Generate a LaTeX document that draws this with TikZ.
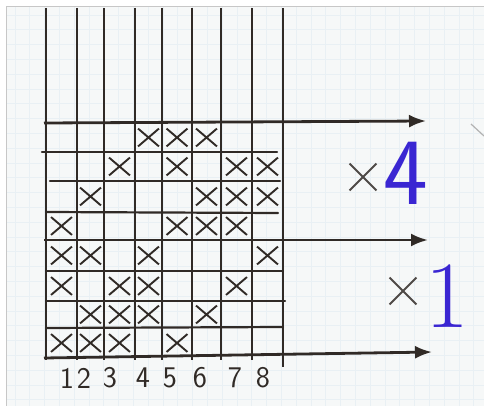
\documentclass[tikz,border=0pt]{standalone}
\usetikzlibrary{arrows.meta,shapes.misc}
\definecolor{ink}{RGB}{48,42,38}
\definecolor{paper}{RGB}{246,248,248}
\definecolor{gridc}{RGB}{233,240,244}
\definecolor{bluepen}{RGB}{58,38,210}
\tikzset{
  vline/.style={ink,line width=2.1pt},
  hline/.style={ink,line width=2.2pt,line cap=round},
  arrowline/.style={ink,line width=2.8pt,-{Latex[length=17pt,width=13pt]}},
  xmark/.style={cross out,draw=ink,line width=1.9pt,minimum width=19pt,minimum height=16pt,inner sep=0pt},
  bigx/.style={cross out,draw=ink!85,line width=1.9pt,minimum size=25pt,inner sep=0pt},
  digit/.style={ink,font=\fontsize{30}{30}\selectfont\sffamily,inner sep=0pt},
  bluedigit/.style={bluepen,font=\fontsize{95}{95}\selectfont\sffamily,inner sep=0pt},
  bluedigitr/.style={bluepen,font=\fontsize{95}{95}\selectfont\rmfamily,inner sep=0pt}
}
\begin{document}
\begin{tikzpicture}[x=1pt,y=-1pt]
\useasboundingbox (0,0) rectangle (484,406);
\fill[white] (0,0) rectangle (484,406);
\fill[paper] (6,7) rectangle (484,406);
\draw[gridc,line width=0.5pt] (6,7) grid[step=14.8pt] (484,406);
\draw[black!22,line width=1pt] (6,406) -- (6,7) -- (484,7);
% vertical lines
\foreach \x [count=\i] in {46,77,104,135,162,192,221,252,283}{
  \coordinate (vT\i) at (\x,8);
  \coordinate (vB\i) at (\x,360);
  \draw[vline] (vT\i) -- (vB\i);
}
\coordinate (tick) at (283,367);
\draw[vline] (vB9) -- (tick);
% horizontal lines
\coordinate (h1L) at (44,123); \coordinate (h1R) at (426,121);
\coordinate (h2L) at (42,152); \coordinate (h2R) at (277,152);
\coordinate (h3L) at (50,181); \coordinate (h3R) at (280,181);
\coordinate (h4L) at (46,212); \coordinate (h4R) at (278,213);
\coordinate (h5L) at (44,240); \coordinate (h5R) at (428,240);
\coordinate (h6L) at (46,271); \coordinate (h6R) at (283,271);
\coordinate (h7L) at (46,301); \coordinate (h7R) at (285,301);
\coordinate (h8L) at (46,328); \coordinate (h8R) at (283,327);
\coordinate (h9L) at (44,358); \coordinate (h9R) at (432,352);
\draw[arrowline] (h1L) -- (h1R);
\draw[hline] (h2L) -- (h2R);
\draw[hline] (h3L) -- (h3R);
\draw[hline] (h4L) -- (h4R);
\draw[arrowline] (h5L) -- (h5R);
\draw[hline] (h6L) -- (h6R);
\draw[hline] (h7L) -- (h7R);
\draw[hline] (h8L) -- (h8R);
\draw[arrowline] (h9L) -- (h9R);
% crosses
\def\colx{{0,61.5,90.5,119.5,148.5,177,206.5,236.5,267.5}}
\def\rowy{{0,137.5,166.5,196.5,226,255.5,286,314.5,343}}
\foreach \r/\cols in {1/{4,5,6},2/{3,5,7,8},3/{2,6,7,8},4/{1,5,6,7},5/{1,2,4,8},6/{1,3,4,7},7/{2,3,4,6},8/{1,2,3,5}}{
  \foreach \c in \cols{
    \pgfmathsetmacro{\cx}{\colx[\c]}
    \pgfmathsetmacro{\cy}{\rowy[\r]}
    \node[xmark] (x-\r-\c) at (\cx,\cy) {};
  }
}
% column numbers
\foreach \x/\t in {67/1,84/2,110/3,143/4,170/5,200/6,235/7,263/8}{
  \node[digit] (n\t) at (\x,378) {\t};
}
% multipliers
\node[bigx] (times1) at (363,177) {};
\node[bluedigit] (four) at (406,173) {4};
\node[bigx] (times2) at (403,291) {};
\node[bluedigitr] (one) at (447,296) {1};
% stray grey mark at right edge
\coordinate (g1) at (471,124); \coordinate (g2) at (484,136);
\draw[black!30,line width=1.2pt] (g1) -- (g2);
\end{tikzpicture}
\end{document}
